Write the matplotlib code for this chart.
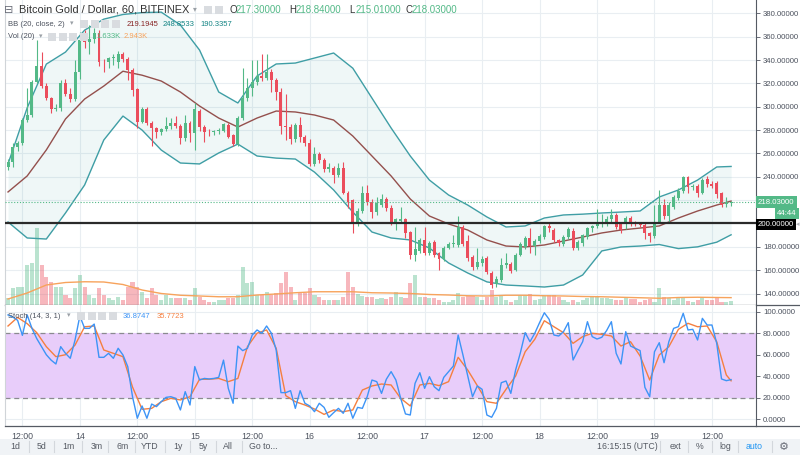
#!/usr/bin/env python3

import numpy as np
import matplotlib
matplotlib.use("Agg")
import matplotlib.pyplot as plt
import matplotlib.transforms as mtransforms
from matplotlib.patches import Rectangle
from matplotlib.lines import Line2D


OPEN = [
    248.7, 253, 265.8, 268.7, 288.7, 293, 321.5, 334.9, 317.8, 307.8,
    297.8, 299, 320, 311, 306.7, 330, 357, 355.7, 357.8, 362.9,
    338.5, 338, 341.5, 338, 345, 340.6, 331.5, 314.9, 287.2, 297.8,
    286.4, 281.5, 278.7, 281, 283.6, 286.4, 283.6, 273, 286.4, 277.2,
    296.4, 282.4, 278.7, 278, 279, 279.5, 284.4, 275.8, 268, 290.7,
    307.2, 316, 321.5, 326.3, 324.5, 330, 322.9, 312.9, 283.5, 282.5,
    272.1, 284.4, 274.5, 268.7, 251, 259.6, 254, 246.4, 247.3, 241.6,
    247.3, 226.4, 220, 200.2, 211.1, 226.4, 218.8, 210, 215.9, 220.8,
    213.1, 201.6, 202.5, 203.6, 193, 173, 176.5, 186, 175, 184,
    174.5, 169.4, 179.4, 182.4, 181.6, 197.3, 185.4, 171, 163, 166,
    170.2, 157.4, 148, 152, 164.5, 165.5, 160, 173.1, 180.2, 187.3,
    180.8, 185.4, 188.8, 197.9, 194.5, 185.9, 182.5, 188.8, 193.9, 178.8,
    183.1, 188.2, 195.9, 197.9, 199.6, 200.2, 203.6, 207.3, 199.6, 199.6,
    204.5, 200.5, 200, 198.8, 191.6, 189.3, 201.6, 215.9, 206.5, 214.4,
    221.7, 228.1, 240.1, 231, 232, 226.4, 237.9, 233.5, 234.4, 225.9,
    216.5, 217.3,
]
HIGH = [
    255, 268.7, 271, 290, 315.8, 323, 357, 347, 320, 308.6,
    302, 323, 324, 316, 340, 364, 366, 370, 367, 366,
    341, 343, 345, 348, 347, 343, 333, 316, 300, 300,
    288, 283, 282, 291.5, 290, 292, 285, 293, 288, 303,
    298, 284, 281, 280, 282, 286, 286, 277, 292, 333,
    325, 340, 340, 345, 345, 332, 325, 316, 311, 285,
    286, 291, 276, 272, 265.8, 261, 256, 252, 249, 252,
    253, 228, 221, 213, 232, 233, 221, 223, 225, 223,
    216, 205, 214, 205, 194, 197.3, 188, 197.3, 185, 186,
    176, 181, 184, 190, 206, 199, 190, 173, 178.8, 172,
    172, 159, 155, 170.2, 175, 167, 175, 184, 189, 196,
    187, 191, 199, 200, 196, 187, 190, 197, 196, 186,
    191, 197, 199, 212, 208, 206, 212, 209, 201, 206,
    206, 202, 201, 200, 193, 216, 228.7, 221, 218, 224,
    230, 241, 241, 234, 234, 239, 241, 236, 236, 227,
    223, 218.84,
]
LOW = [
    246, 248.7, 262, 267, 287, 291, 320, 315.8, 305.8, 294.4,
    296, 296, 309, 304, 305, 324, 350, 345, 355, 335,
    330, 333, 336, 333, 338, 323, 309, 282, 286, 284,
    266.7, 273, 276, 279, 281, 282, 268.5, 271, 270, 263,
    279, 270, 275, 276, 277, 278, 273, 266, 266, 289,
    305, 309, 319, 322, 323, 313, 306, 277, 271.5, 268,
    270, 270, 266, 249, 249, 252, 244, 244, 234.4, 240,
    225, 213, 192, 198, 209, 216, 205, 207, 214, 211,
    199, 194.5, 200, 188, 170, 168, 175, 173, 173, 171,
    160, 168, 178, 180, 180, 181, 168, 160, 161, 164,
    157, 145, 146, 150, 162, 158, 159, 172, 178, 175,
    173, 183, 187, 193, 184, 181, 181, 187, 177, 177,
    181, 187, 193, 196, 197, 198, 201, 195, 192, 195,
    198, 198, 197, 187, 184.5, 188, 200, 204, 201, 212,
    220, 226, 226, 229, 223, 225, 231, 230, 222, 214,
    214, 215.01,
]
CLOSE = [
    253, 265.8, 268.7, 288.7, 293, 321.5, 334.9, 317.8, 307.8, 297.8,
    299, 320, 311, 306.7, 330, 357, 355.7, 357.8, 362.9, 338.5,
    338, 341.5, 343, 345, 340.6, 331.5, 314.3, 287.2, 297.8, 286.4,
    281.5, 278.7, 281, 283.6, 286.4, 283.6, 273, 286.4, 277.2, 297.8,
    282.4, 278.7, 278, 279, 280, 285, 274.4, 268, 290.7, 307.2,
    316.3, 321.5, 326.3, 324.5, 330, 322.9, 312.9, 283.5, 282.5, 272.1,
    284.4, 274, 268.7, 251, 259.6, 254, 246.4, 248, 241.6, 247.3,
    226.4, 218.8, 200.2, 211.1, 226.4, 218.8, 210, 217.3, 220.8, 213.1,
    201.6, 203.6, 203.6, 191.6, 173, 178, 185.9, 175, 183.6, 173,
    169.4, 179.4, 182.4, 183.6, 197.3, 182.6, 170.2, 162.5, 167.4, 170,
    158.8, 147.4, 152.5, 164.5, 166, 159.6, 173.1, 182.5, 187.3, 180.8,
    185.4, 189.3, 197.9, 195.9, 185.9, 183.2, 188.8, 195, 178.8, 184.5,
    190.2, 195.9, 197.9, 199.6, 201.6, 203.6, 207.3, 197.3, 194.5, 204.5,
    199.6, 199.5, 199, 191.6, 189.3, 201.6, 215.9, 206.5, 215.9, 222.4,
    228.1, 240.1, 231, 232, 225.9, 237.3, 233.9, 232.5, 225.3, 215.9,
    217.5, 218.03,
]
# volume in thousands
VOLUME = [
    2.7, 6.7, 7.3, 7.3, 16, 16.7, 30.7, 16, 11.3, 9.3,
    7.3, 7.3, 4, 2.7, 6.7, 12, 7.3, 4, 2.7, 6.7,
    4, 2.7, 2, 3.2, 2, 7.2, 9.2, 7.2, 5.2, 2.8,
    6.8, 4, 2, 4, 2.8, 2.8, 2.8, 2.8, 2, 6.8,
    3.2, 2, 1.2, 1.2, 2, 2, 2.8, 2.8, 4, 15.2,
    8.8, 9.2, 4, 4, 5.2, 4, 4.8, 8.8, 13.2, 7.2,
    2, 5.2, 4.8, 6.8, 4, 3.2, 2, 2, 2, 2,
    3.2, 13.2, 7.2, 4.4, 3.6, 3.2, 3.2, 2.4, 2.8, 2.4,
    3.2, 5.2, 3.2, 2.8, 8.8, 12, 3.2, 3.2, 2.8, 2.8,
    2, 1.2, 1.2, 2, 4.8, 3.2, 3.6, 3.6, 3.2, 2,
    3.2, 6, 3.2, 4, 2, 1.2, 2, 4, 4, 4.4,
    2, 2.4, 3.6, 4, 4, 3.2, 2, 1.2, 2, 1.2,
    2, 2.8, 3.2, 3.2, 2.8, 2.8, 2.4, 2, 2, 2.8,
    2.4, 2.4, 1.2, 2, 2.4, 1.2, 6.8, 3.2, 2.8, 2,
    3.2, 3.2, 1.6, 1.2, 2, 2.8, 2, 2, 2.8, 1.2,
    1.2, 1.633,
]

LINE_IDX = [0, 4, 8, 12, 16, 20, 24, 28, 32, 36, 40, 44, 48, 52, 56, 60, 64, 68, 72,
            76, 80, 84, 88, 92, 96, 100, 104, 108, 112, 116, 120, 124, 128, 132, 136,
            140, 144, 148, 151]
BB_UPPER = [251, 299, 336.5, 346.8, 365.6, 375, 379, 380.6, 381, 370, 348.5, 312.6,
            303.2, 326.3, 336.6, 337.4, 341.7, 346, 333, 307.4, 281.8, 257.8, 237.2,
            224.4, 215.8, 205.6, 197, 197.9, 204.7, 207.3, 208, 209, 209.8, 210.7,
            222.7, 228.7, 237.2, 248.4, 248.8533]
BB_BASIS = [227, 240.7, 263, 289.5, 306.6, 317.7, 330.4, 327, 322, 312.6, 300.6, 290.3,
            282.6, 290.3, 296.3, 295.5, 292.9, 288.6, 274.9, 257.8, 240.7, 221, 206.4,
            199.6, 194.4, 185.9, 180.7, 179.9, 181.6, 185, 188.4, 191.9, 194.4, 196.1,
            197.9, 204.7, 210.7, 215.8, 219.1945]
BB_LOWER = [201.3, 187.6, 186.7, 209, 233, 271.5, 292, 280, 262.9, 251.8, 251, 260.4,
            268, 257.8, 256, 255.2, 244, 228.7, 209.8, 192.7, 187.6, 185.9, 179, 166.2,
            157.6, 150, 147.3, 146.5, 145.6, 147.3, 155.9, 176.5, 179.9, 180.7, 182,
            178.5, 180, 184, 190.3357]
VOL_MA = [2.4, 4.8, 8, 9, 9.3, 9.2, 8.2, 6, 4.6, 3.9, 3.6, 3.3, 3.3, 4, 4.4, 4.9, 5.3,
          5.3, 5.3, 4.9, 4.8, 4.6, 4.2, 4, 3.7, 3.6, 3.9, 3.9, 3.7, 3.6, 3.4, 3.3, 3.1,
          2.9, 2.7, 3.0, 3.1, 3.0, 2.943]

STOCH_K = [
    97, 95, 92, 78, 97, 84.5, 75, 67.5, 60, 55,
    51.4, 67.5, 61.3, 56.7, 73.7, 96, 84.5, 84.5, 88.5, 57.6,
    57.6, 61.3, 56.7, 66, 59.8, 49, 21, 1, 12.4, 1,
    14.2, 11.8, 16.4, 20.4, 21, 19.5, 8.7, 25.7, 13.3, 49,
    36.5, 38, 37.5, 38, 39, 55, 28.8, 14.9, 68, 63.8,
    66, 78.3, 83, 80, 86.7, 80, 64.4, 24.8, 24.8, 26.6,
    10.2, 26.6, 14.9, 12.4, 7.1, 14.9, 11.1, 1.9, 6.2, 10.2,
    5.6, 14.9, 1, 11.1, 10.2, 21, 36.5, 35, 24.1, 37.2,
    44.3, 36.5, 19.5, 5, 4, 33.4, 43.3, 28.8, 39.6, 30.3,
    26.6, 39, 44.3, 49.5, 78.3, 59.8, 40.2, 21, 31, 27.9,
    4, 1.9, 10.2, 34, 35.6, 24.1, 45.8, 61.9, 80.5, 72.1,
    79.9, 89.8, 99, 92.9, 78.3, 77.4, 81.4, 89.8, 55.1, 63.8,
    72.1, 90.7, 76.8, 74.6, 76.2, 82.4, 90.7, 61.3, 51.4, 81.4,
    68.1, 65.9, 63.8, 29.7, 21, 62.8, 71.2, 52.6, 72.1, 84.5,
    86.1, 98.5, 83, 83.6, 73.7, 93.8, 87.6, 87.6, 70.6, 37.5,
    35.9, 36.8747,
]
STOCH_D_IDX = list(range(0, 151, 2)) + [151]
STOCH_D = [
    86.7, 94.7, 88.9, 80.5, 67.5, 58.2, 60, 69, 86, 86.7,
    64.4, 61.3, 58.2, 30, 9.3, 10.2, 16.4, 19.5, 18, 21,
    37.2, 37.2, 38, 35, 38, 67.5, 80, 83, 66, 22,
    16.4, 13.3, 9.6, 4.6, 8.7, 7.1, 8.7, 27.2, 31, 32.8,
    31.9, 19.5, 12.4, 31.9, 33.4, 31.3, 35, 57.6, 45.8, 31.3,
    16.4, 14.9, 27.9, 40.2, 62.8, 74.3, 91.6, 86, 80.5, 70.6,
    76.8, 79.9, 78.9, 77.4, 68.1, 72.1, 58.8, 36.5, 59.8, 67.5,
    83.6, 89.2, 86, 86.7, 72, 41.2, 35.7723,
]

TICK_IDX = [3, 15, 27, 39, 51, 63, 75, 87, 99, 111, 123, 135, 147]
TICK_LABELS = ["12:00", "14", "12:00", "15", "12:00", "16", "12:00", "17",
               "12:00", "18", "12:00", "19", "12:00"]
PRICE_TICKS = [140, 160, 180, 200, 220, 240, 260, 280, 300, 320, 340, 360, 380]
STOCH_TICKS = [0, 20, 40, 60, 80, 100]

UP = "#53b987"
DOWN = "#eb4d5c"
GRID = "#e9eef2"
TEXT = "#4c525e"
FONT = ["Liberation Sans", "DejaVu Sans"]

W, H = 800, 455


def fx(x):
    return x / W


def fy(y):
    return 1 - y / H


def label(x, y, s, color=TEXT, size=6.5, **kw):
    plt.gcf().text(fx(x), fy(y), s, color=color, fontsize=size, va="center",
                   family=FONT, **kw)


def icons(x0, y, n):
    for k in range(n):
        plt.gcf().patches.append(Rectangle(
            (fx(x0 + k * 10.5), fy(y + 4)), 8 / W, 8 / H,
            transform=plt.gcf().transFigure, facecolor="#d9dce0",
            edgecolor="none"))


def main():
    o = np.array(OPEN)
    h = np.array(HIGH)
    lo = np.array(LOW)
    c = np.array(CLOSE)
    x = np.arange(len(c))
    colors = np.where(c >= o, UP, DOWN)

    fig = plt.figure(figsize=(8, 4.55), dpi=100)
    ax = fig.add_axes([fx(5), fy(305), (756 - 5) / W, 305 / H])
    ax_st = fig.add_axes([fx(5), fy(426), (756 - 5) / W, (426 - 305) / H],
                         sharex=ax)

    # volume along the bottom of the price pane
    vol_top = 122.0
    trans = mtransforms.blended_transform_factory(ax.transData, ax.transAxes)
    ax.bar(x, np.array(VOLUME) / vol_top, width=0.85, bottom=0, color=colors,
           alpha=0.4, linewidth=0, transform=trans, zorder=1)
    ax.plot(LINE_IDX, np.array(VOL_MA) / vol_top, color="#f7a35c", lw=1,
            transform=trans, zorder=1.5)

    # bollinger bands
    ax.fill_between(LINE_IDX, BB_LOWER, BB_UPPER, color="#1f8f8f", alpha=0.07,
                    lw=0, zorder=1.2)
    ax.plot(LINE_IDX, BB_UPPER, color="#3f9ea5", lw=1, zorder=2)
    ax.plot(LINE_IDX, BB_LOWER, color="#3f9ea5", lw=1, zorder=2)
    ax.plot(LINE_IDX, BB_BASIS, color="#94504d", lw=1, zorder=2)

    # candles
    ax.vlines(x, lo, h, colors=colors, lw=0.8, zorder=3)
    body = np.maximum(np.abs(c - o), 0.7)
    ax.bar(x, body, bottom=np.minimum(o, c), width=0.62, color=colors,
           linewidth=0, zorder=4)

    ax.axhline(200, color="#2a2a2a", lw=1.6, zorder=5)
    ax.axhline(CLOSE[-1], color=UP, lw=0.8, ls=(0, (1, 1.6)), zorder=5)

    ax.set_xlim(-0.63, 156.2)
    ax.set_ylim(130.2, 391.4)
    ax.set_xticks(TICK_IDX)
    ax.set_yticks(PRICE_TICKS)
    ax.set_yticklabels(["" if v in (200, 220) else "%.5f" % v for v in PRICE_TICKS])
    ax.yaxis.tick_right()
    ax.tick_params(axis="y", length=3, width=0.7, color="#6a6d78", pad=2,
                   labelsize=5.6, labelcolor=TEXT)
    ax.tick_params(axis="x", length=0, labelbottom=False)
    ax.grid(True, color=GRID, lw=0.8)
    ax.set_axisbelow(True)

    # stochastic
    ax_st.axhspan(20, 80, color="#e8cdfa", lw=0, zorder=0.6)
    for lvl in (20, 80):
        ax_st.axhline(lvl, color="#8a8a8f", lw=0.9, ls=(0, (4, 3)), zorder=1)
    ax_st.plot(x, STOCH_K, color="#3d94f6", lw=1, zorder=3)
    ax_st.plot(STOCH_D_IDX, STOCH_D, color="#f57f3f", lw=1, zorder=2.5)
    ax_st.set_ylim(-6.2, 106.2)
    ax_st.set_yticks(STOCH_TICKS)
    ax_st.set_yticklabels(["%.4f" % v for v in STOCH_TICKS])
    ax_st.yaxis.tick_right()
    ax_st.tick_params(axis="y", length=3, width=0.7, color="#6a6d78", pad=2,
                      labelsize=5.6, labelcolor=TEXT)
    ax_st.set_xticks(TICK_IDX)
    ax_st.set_xticklabels(TICK_LABELS)
    ax_st.tick_params(axis="x", length=0, pad=4, labelsize=6.3, labelcolor=TEXT)
    ax_st.grid(True, color=GRID, lw=0.8)
    ax_st.set_axisbelow(True)

    for a in (ax, ax_st):
        for t in a.get_xticklabels() + a.get_yticklabels():
            t.set_family(FONT)
        a.spines["top"].set_visible(False)
        a.spines["left"].set_color("#d0d4d8")
        a.spines["left"].set_linewidth(0.8)
        a.spines["right"].set_color("#555a63")
        a.spines["right"].set_linewidth(0.8)
        a.spines["bottom"].set_color("#555a63")
        a.spines["bottom"].set_linewidth(0.9)

    # pane separators run across the price scale too
    for yy in (305, 426):
        fig.lines.append(Line2D([fx(756), 1], [fy(yy), fy(yy)],
                                transform=fig.transFigure, color="#555a63",
                                lw=0.9))

    # price scale badges
    fig.text(fx(758), fy(202), "218.03000", color="white", fontsize=5.6,
             va="center", family=FONT,
             bbox=dict(boxstyle="square,pad=0.28", fc=UP, ec="none"))
    fig.text(fx(777), fy(213.5), "44:44", color="white", fontsize=5.6,
             va="center", family=FONT,
             bbox=dict(boxstyle="square,pad=0.28", fc=UP, ec="none"))
    fig.text(fx(758), fy(224.5), "200.00000", color="white", fontsize=5.6,
             va="center", family=FONT,
             bbox=dict(boxstyle="square,pad=0.28", fc="#000000", ec="none"))
    label(796, 224.5, "\u25c2", color="#b0b4ba", size=5)

    # legends
    label(4, 10, "\u229f", color="#6a6d78", size=8)
    label(19, 10, "Bitcoin Gold / Dollar, 60, BITFINEX", color="#333333", size=7.9)
    label(193, 10, "\u25be", color="#9aa0a6", size=5.5)
    icons(204, 10, 2)
    for key, val, x0 in (("O", "217.30000", 229), ("H", "218.84000", 289),
                         ("L", "215.01000", 349), ("C", "218.03000", 405)):
        label(x0, 10, key, color="#333333", size=7)
        label(x0 + 6.5, 10, val, color=UP, size=7)

    small = 5.5
    label(8, 24, "BB (20, close, 2)", size=small)
    label(70, 24, "\u25be", color="#9aa0a6", size=5)
    icons(80, 24, 4)
    label(127, 24, "219.1945", color="#872323", size=small)
    label(163, 24, "248.8533", color="#138484", size=small)
    label(200, 24, "190.3357", color="#138484", size=small)

    label(8, 37, "Vol (20)", size=small)
    label(39, 37, "\u25be", color="#9aa0a6", size=5)
    icons(48, 37, 4)
    label(96, 37, "1.633K", color=UP, size=small)
    label(124, 37, "2.943K", color="#f7a35c", size=small)

    label(8, 316, "Stoch (14, 3, 1)", size=small)
    label(67, 316, "\u25be", color="#9aa0a6", size=5)
    icons(77, 316, 4)
    label(123, 316, "36.8747", color="#3d94f6", size=small)
    label(157, 316, "35.7723", color="#f57f3f", size=small)

    # bottom toolbar
    fig.patches.append(Rectangle((0, 0), 1, fy(439), transform=fig.transFigure,
                                 facecolor="#f0f3f6", edgecolor="none"))
    for s, xx in (("1d", 15), ("5d", 42), ("1m", 68), ("3m", 97), ("6m", 123),
                  ("YTD", 150), ("1y", 178), ("5y", 203), ("All", 228),
                  ("Go to...", 263)):
        label(xx, 446.5, s, color="#555a63", size=6.3, ha="center")
    for xx in (29, 54, 82, 108, 135, 165, 190, 216, 242, 660, 688, 712, 738, 772):
        fig.lines.append(Line2D([fx(xx), fx(xx)], [fy(441), fy(452)],
                                transform=fig.transFigure, color="#d3d7dc",
                                lw=0.8))
    label(627, 446.5, "16:15:15 (UTC)", color="#555a63", size=6.3, ha="center")
    label(675, 446.5, "ext", color="#555a63", size=6.3, ha="center")
    label(700, 446.5, "%", color="#555a63", size=6.3, ha="center")
    label(725, 446.5, "log", color="#555a63", size=6.3, ha="center")
    label(754, 446.5, "auto", color="#2196f3", size=6.3, ha="center")
    label(784, 446.5, "\u2699", color="#6a6d78", size=8, ha="center")

    fig.savefig("out.png", dpi=100)


if __name__ == "__main__":
    main()
